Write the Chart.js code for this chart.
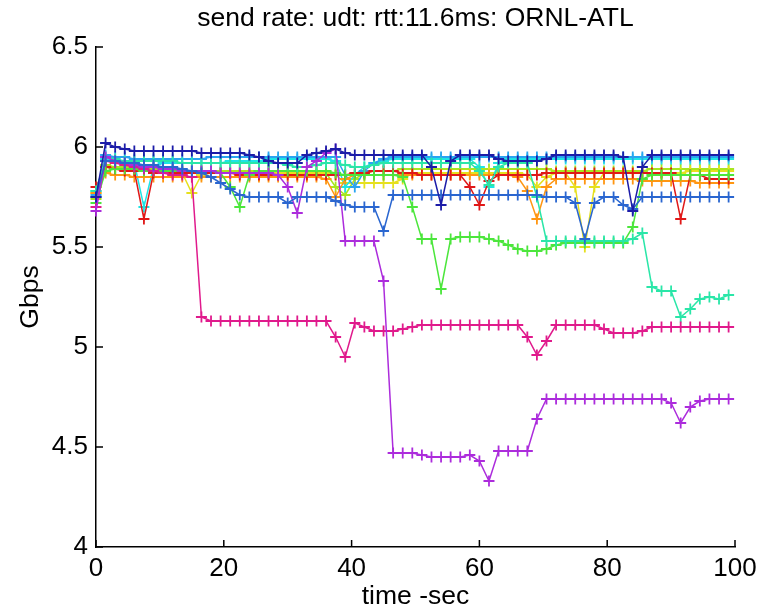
<!DOCTYPE html>
<html>
<head>
<meta charset="utf-8">
<script src="https://cdn.jsdelivr.net/npm/chart.js@4.4.0/dist/chart.umd.min.js"></script>
<style>
html, body { margin: 0; padding: 0; background: #fff; }
#divChartSendRate { width: 769px; height: 610px; }
</style>
</head>
<body>
<div id="divChartSendRate"><canvas id="chartSendRate" width="769" height="610"></canvas></div>
<script>
// sample times (sec)
var timeSec = [0,1.5,3,4.5,6,7.5,9,10.5,12,13.5,15,16.5,18,19.5,21,22.5,24,25.5,27,28.5,
    30,31.5,33,34.5,36,37.5,39,40.5,42,43.5,45,46.5,48,49.5,51,52.5,54,55.5,57,58.5,
    60,61.5,63,64.5,66,67.5,69,70.5,72,73.5,75,76.5,78,79.5,81,82.5,84,85.5,87,88.5,
    90,91.5,93,94.5,96,97.5,99];

// send rate per flow (Gbps)
var rateNavy = [5.75,6.02,6.00,5.99,5.98,5.98,5.98,5.98,5.98,5.98,
    5.98,5.97,5.97,5.97,5.97,5.97,5.96,5.95,5.93,5.92,
    5.92,5.92,5.96,5.97,5.98,5.99,5.97,5.96,5.96,5.96,
    5.96,5.96,5.96,5.96,5.96,5.90,5.71,5.93,5.96,5.96,
    5.96,5.96,5.94,5.93,5.93,5.93,5.93,5.94,5.96,5.96,
    5.96,5.96,5.96,5.96,5.96,5.95,5.68,5.90,5.96,5.96,
    5.96,5.96,5.96,5.96,5.96,5.96,5.96];
var rateBlue = [5.75,5.93,5.93,5.92,5.92,5.91,5.91,5.90,5.90,5.89,
    5.88,5.87,5.85,5.82,5.79,5.76,5.75,5.75,5.75,5.75,
    5.72,5.75,5.75,5.75,5.75,5.73,5.71,5.70,5.70,5.70,
    5.58,5.76,5.76,5.76,5.76,5.76,5.76,5.76,5.76,5.76,
    5.76,5.76,5.76,5.76,5.76,5.76,5.76,5.75,5.75,5.75,
    5.72,5.54,5.72,5.75,5.75,5.71,5.69,5.75,5.75,5.75,
    5.75,5.75,5.75,5.75,5.75,5.75,5.75];
var ratePurple = [5.68,5.95,5.93,5.92,5.91,5.90,5.90,5.89,5.89,5.88,
    5.88,5.88,5.88,5.87,5.87,5.87,5.87,5.87,5.87,5.86,
    5.80,5.67,5.90,5.93,5.97,5.99,5.53,5.53,5.53,5.53,
    5.33,4.47,4.47,4.47,4.46,4.45,4.45,4.45,4.45,4.46,
    4.43,4.33,4.48,4.48,4.48,4.48,4.64,4.74,4.74,4.74,
    4.74,4.74,4.74,4.74,4.74,4.74,4.74,4.74,4.74,4.74,
    4.72,4.62,4.70,4.73,4.74,4.74,4.74];
var rateMagenta = [5.70,5.93,5.92,5.91,5.90,5.89,5.88,5.87,5.86,5.86,
    5.85,5.15,5.13,5.13,5.13,5.13,5.13,5.13,5.13,5.13,
    5.13,5.13,5.13,5.13,5.13,5.05,4.95,5.12,5.10,5.08,
    5.08,5.08,5.09,5.10,5.11,5.11,5.11,5.11,5.11,5.11,
    5.11,5.11,5.11,5.11,5.11,5.05,4.96,5.03,5.11,5.11,
    5.11,5.11,5.11,5.09,5.07,5.07,5.07,5.08,5.10,5.10,
    5.10,5.10,5.10,5.10,5.10,5.10,5.10];
var rateLime = [5.72,5.88,5.89,5.89,5.89,5.88,5.88,5.88,5.88,5.88,
    5.88,5.88,5.88,5.87,5.80,5.70,5.86,5.88,5.88,5.88,
    5.88,5.88,5.88,5.88,5.88,5.87,5.86,5.86,5.86,5.86,
    5.86,5.86,5.85,5.70,5.54,5.54,5.29,5.54,5.55,5.55,
    5.55,5.54,5.53,5.51,5.49,5.48,5.48,5.49,5.51,5.52,
    5.52,5.52,5.52,5.52,5.52,5.52,5.60,5.84,5.86,5.86,
    5.86,5.86,5.86,5.86,5.86,5.86,5.86];
var rateSea = [5.78,5.95,5.94,5.93,5.93,5.93,5.93,5.93,5.93,5.92,
    5.92,5.92,5.92,5.92,5.92,5.92,5.92,5.92,5.92,5.92,
    5.91,5.90,5.90,5.91,5.92,5.92,5.91,5.90,5.90,5.91,
    5.92,5.92,5.92,5.92,5.92,5.92,5.92,5.92,5.92,5.92,
    5.88,5.81,5.90,5.92,5.92,5.92,5.75,5.53,5.53,5.53,
    5.53,5.53,5.53,5.53,5.53,5.53,5.54,5.57,5.30,5.28,
    5.28,5.15,5.19,5.24,5.25,5.24,5.26];
var rateCyan = [5.78,5.94,5.93,5.92,5.92,5.70,5.90,5.92,5.92,5.92,
    5.92,5.92,5.92,5.92,5.93,5.93,5.93,5.93,5.94,5.94,
    5.94,5.94,5.94,5.94,5.94,5.93,5.80,5.86,5.90,5.92,
    5.93,5.94,5.94,5.94,5.94,5.94,5.94,5.94,5.94,5.94,
    5.90,5.80,5.92,5.94,5.94,5.94,5.94,5.94,5.94,5.94,
    5.94,5.94,5.94,5.94,5.94,5.94,5.94,5.94,5.94,5.94,
    5.94,5.94,5.94,5.94,5.94,5.94,5.94];
var rateSky = [5.76,5.96,5.95,5.95,5.94,5.94,5.94,5.94,5.94,5.94,
    5.94,5.94,5.95,5.95,5.95,5.95,5.95,5.95,5.95,5.95,
    5.95,5.95,5.95,5.95,5.95,5.95,5.86,5.80,5.88,5.92,
    5.94,5.95,5.95,5.95,5.95,5.95,5.95,5.95,5.95,5.95,
    5.95,5.95,5.95,5.95,5.95,5.95,5.95,5.95,5.95,5.95,
    5.95,5.95,5.95,5.95,5.95,5.95,5.95,5.95,5.95,5.95,
    5.95,5.95,5.95,5.95,5.95,5.95,5.95];
var rateYellow = [5.77,5.90,5.89,5.89,5.88,5.88,5.88,5.87,5.87,5.87,
    5.77,5.86,5.87,5.87,5.87,5.87,5.87,5.87,5.87,5.87,
    5.87,5.87,5.87,5.87,5.87,5.86,5.82,5.82,5.82,5.82,
    5.82,5.82,5.84,5.87,5.87,5.87,5.87,5.87,5.87,5.87,
    5.87,5.87,5.87,5.87,5.87,5.86,5.80,5.85,5.87,5.87,
    5.80,5.50,5.80,5.87,5.87,5.87,5.87,5.87,5.87,5.87,
    5.87,5.87,5.88,5.88,5.88,5.88,5.88];
var rateChartreuse = [5.74,5.91,5.90,5.90,5.89,5.89,5.89,5.88,5.88,5.88,
    5.88,5.88,5.88,5.88,5.88,5.88,5.88,5.88,5.88,5.88,
    5.88,5.88,5.88,5.88,5.87,5.80,5.76,5.84,5.87,5.88,
    5.88,5.88,5.89,5.89,5.89,5.89,5.89,5.89,5.89,5.89,
    5.89,5.89,5.89,5.89,5.89,5.89,5.89,5.89,5.88,5.88,
    5.88,5.88,5.88,5.88,5.88,5.88,5.88,5.88,5.89,5.89,
    5.89,5.89,5.89,5.89,5.89,5.89,5.89];
var rateOrange = [5.77,5.87,5.86,5.86,5.85,5.85,5.85,5.85,5.85,5.85,
    5.85,5.85,5.85,5.85,5.85,5.85,5.85,5.85,5.85,5.85,
    5.85,5.85,5.85,5.85,5.84,5.75,5.84,5.86,5.86,5.86,
    5.86,5.86,5.86,5.86,5.86,5.86,5.86,5.86,5.86,5.86,
    5.86,5.86,5.86,5.86,5.85,5.78,5.64,5.80,5.84,5.84,
    5.84,5.84,5.84,5.84,5.84,5.84,5.84,5.83,5.83,5.83,
    5.83,5.83,5.83,5.82,5.82,5.82,5.82];
var rateRed = [5.80,5.90,5.89,5.88,5.88,5.64,5.87,5.87,5.87,5.87,
    5.87,5.87,5.87,5.87,5.87,5.86,5.86,5.86,5.86,5.86,
    5.86,5.86,5.86,5.86,5.86,5.86,5.86,5.87,5.87,5.88,
    5.88,5.88,5.87,5.87,5.86,5.86,5.86,5.86,5.86,5.80,
    5.71,5.83,5.86,5.86,5.86,5.86,5.86,5.87,5.87,5.87,
    5.87,5.87,5.87,5.87,5.87,5.87,5.87,5.87,5.87,5.87,
    5.87,5.64,5.86,5.86,5.84,5.84,5.84];

var xTicks = [0, 20, 40, 60, 80, 100];
var yTicks = [4, 4.5, 5, 5.5, 6, 6.5];

var fontFamily = "'Liberation Sans', Arial, Helvetica, sans-serif";

function toPoints(values) {
    var pts = [];
    for (var i = 0; i < values.length; i++) {
        pts.push({ x: timeSec[i], y: values[i] });
    }
    return pts;
}

function flow(values, color) {
    return {
        data: toPoints(values),
        borderColor: color,
        backgroundColor: color,
        borderWidth: 1.5,
        pointStyle: 'cross',
        pointRadius: 5.5,
        pointBorderWidth: 1.8,
        pointHoverRadius: 5.5,
        fill: false,
        tension: 0,
        clip: false
    };
}

// MATLAB style ticks pointing into the plot
var inwardTicks = {
    id: 'inwardTicks',
    afterDatasetsDraw: function (chart) {
        var ctx = chart.ctx, xs = chart.scales.x, ys = chart.scales.y, area = chart.chartArea;
        ctx.save();
        ctx.strokeStyle = '#000';
        ctx.lineWidth = 1.5;
        ctx.beginPath();
        xTicks.forEach(function (v) {
            var px = xs.getPixelForValue(v);
            ctx.moveTo(px, area.bottom);
            ctx.lineTo(px, area.bottom - 7);
        });
        yTicks.forEach(function (v) {
            var py = ys.getPixelForValue(v);
            ctx.moveTo(area.left, py);
            ctx.lineTo(area.left + 7, py);
        });
        ctx.stroke();
        ctx.restore();
    }
};

var ctx = document.getElementById('chartSendRate');
var mySendRateChart = new Chart(ctx, {
    type: 'line',
    data: {
        datasets: [
            flow(rateNavy, '#1c1ca8'),
            flow(rateBlue, '#2a66d0'),
            flow(ratePurple, '#ac2cdc'),
            flow(rateMagenta, '#e01a8c'),
            flow(rateSea, '#2ae6a8'),
            flow(rateLime, '#4ce63c'),
            flow(rateRed, '#e01818'),
            flow(rateOrange, '#ff9612'),
            flow(rateSky, '#2aa4f0'),
            flow(rateCyan, '#1ee4e4'),
            flow(rateYellow, '#e6e01e'),
            flow(rateChartreuse, '#a8e61e')
        ]
    },
    options: {
        responsive: false,
        animation: false,
        devicePixelRatio: 1,
        layout: { padding: { left: 0, right: 34, top: 0, bottom: 0 } },
        plugins: {
            legend: { display: false },
            tooltip: { enabled: false },
            title: {
                display: true,
                text: 'send rate: udt: rtt:11.6ms: ORNL-ATL',
                color: '#000',
                fullSize: false,
                font: { family: fontFamily, size: 26.5, weight: 'normal', lineHeight: 1.2 },
                padding: { top: 3, bottom: 12.2 }
            }
        },
        scales: {
            x: {
                type: 'linear',
                min: 0,
                max: 100,
                afterFit: function (scale) { scale.height = 63; },
                afterBuildTicks: function (scale) {
                    scale.ticks = xTicks.map(function (v) { return { value: v }; });
                },
                grid: { display: false, drawTicks: false },
                border: { display: true, color: '#000', width: 1.5 },
                ticks: { color: '#000', padding: 6, maxRotation: 0,
                    font: { family: fontFamily, size: 26 },
                    callback: function (v) { return String(v); } },
                title: { display: true, text: 'time -sec', color: '#000',
                    font: { family: fontFamily, size: 26.5, lineHeight: 1 },
                    padding: { top: 0, bottom: 0 } }
            },
            y: {
                type: 'linear',
                min: 4,
                max: 6.5,
                afterFit: function (scale) { scale.width = 96; },
                afterBuildTicks: function (scale) {
                    scale.ticks = yTicks.map(function (v) { return { value: v }; });
                },
                grid: { display: false, drawTicks: false },
                border: { display: true, color: '#000', width: 1.5 },
                ticks: { color: '#000', padding: 8,
                    font: { family: fontFamily, size: 26 },
                    callback: function (v) { return String(v); } },
                title: { display: true, text: 'Gbps', color: '#000',
                    font: { family: fontFamily, size: 26.5, lineHeight: 1.2 },
                    padding: { top: 15, bottom: 0 } }
            }
        }
    },
    plugins: [inwardTicks]
});
</script>
</body>
</html>
